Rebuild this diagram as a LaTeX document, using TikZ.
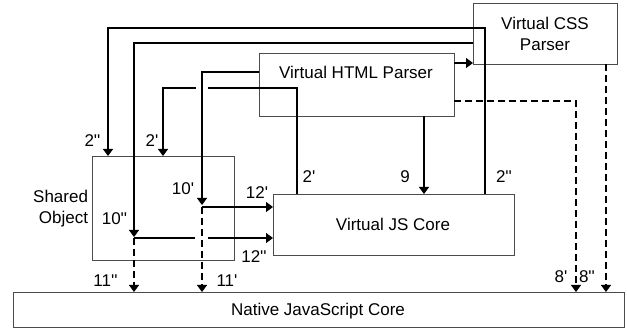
\documentclass[tikz,border=0pt]{standalone}
\usepackage{fontspec}
\newfontfamily\arialf{Liberation Sans}
\usetikzlibrary{arrows.meta}
\begin{document}
\begin{tikzpicture}[x=1pt,y=-1pt,
  every node/.style={font=\arialf\fontsize{17}{21}\selectfont, inner sep=0pt, outer sep=0pt},
  box/.style n args={2}{draw=black!70, line width=0.8pt, rectangle, minimum width=#1, minimum height=#2, anchor=north west},
  conn/.style={line width=1.2pt, draw=black},
  arr/.style={-{Triangle[width=10pt,length=7pt]}},
  dashline/.style={dash pattern=on 7pt off 4pt},
  lab/.style={anchor=base}]
\useasboundingbox (0,0) rectangle (627,328);
% boxes
\node[box={144pt}{61pt}] (css) at (473,3) {};
\node[box={195pt}{63pt}] (html) at (259,53) {};
\node[box={142pt}{104pt}] (shared) at (92,156) {};
\node[box={241pt}{61pt}] (js) at (273,194) {};
\node[box={611pt}{35pt}] (native) at (13,292) {};
% box texts
\node[align=center] (csst) at (545,34) {Virtual CSS\\Parser};
\node[lab] (htmlt) at (356,79) {Virtual HTML Parser};
\node[lab] (jst) at (393,231) {Virtual JS Core};
\node[lab] (natt) at (318,316) {Native JavaScript Core};
\node[align=right, anchor=east] (sot) at (88,209) {Shared\\Object};
% helper coordinates
\coordinate (t10b) at (134,237);
\coordinate (h10b) at (134,238);
\coordinate (t10a) at (202,205);
\coordinate (h10a) at (202,207);
\coordinate (g4r) at (208,88);
\coordinate (g4l) at (196,88);
\coordinate (g2l) at (195,238);
\coordinate (g2r) at (208,238);
% 2''
\draw[conn,arr] (485,0 |- js.north) -- (485,28) -- (108,28) -- (108,0 |- shared.north);
% 10''
\draw[conn,arr] (css.west |- 0,43) -- (134,43) -- (t10b);
\draw[conn] (h10b) -- (g2l);
\draw[conn,arr] (g2r) -- (js.west |- h10b);
\draw[conn,dashline,arr] (h10b) -- (h10b |- native.north);
% 2'
\draw[conn] (297,0 |- js.north) -- (297,88) -- (g4r);
\draw[conn,arr] (g4l) -- (163,88) -- (163,0 |- shared.north);
% 10'
\draw[conn,arr] (html.west |- 0,72) -- (202,72) -- (t10a);
\draw[conn,arr] (h10a) -- (js.west |- h10a);
\draw[conn,dashline,arr] (h10a) -- (h10a |- native.north);
% HTML -> CSS
\draw[conn,arr] (html.east |- 0,63) -- (css.west |- 0,63);
% 9
\draw[conn,arr] (424,0 |- html.south) -- (424,0 |- js.north);
% 8'
\draw[conn,dashline,arr] (html.east |- 0,101) -- (576,101) -- (576,0 |- native.north);
% 8''
\draw[conn,dashline,arr] (606,0 |- css.south) -- (606,0 |- native.north);
% labels
\node[lab] (l2a) at (92.5,147) {2''};
\node[lab] (l2b) at (152,147) {2'};
\node[lab] (l10b) at (114.5,225) {10''};
\node[lab] (l10a) at (183,195) {10'};
\node[lab] (l12a) at (257,199) {12'};
\node[lab] (l12b) at (254,263) {12''};
\node[lab] (l11b) at (105.5,287) {11''};
\node[lab] (l11a) at (227,287) {11'};
\node[lab] (l2c) at (309,183) {2'};
\node[lab] (l9) at (405,183) {9};
\node[lab] (l2d) at (504,183) {2''};
\node[lab] (l8a) at (561,283) {8'};
\node[lab] (l8b) at (587,283) {8''};
\end{tikzpicture}
\end{document}
